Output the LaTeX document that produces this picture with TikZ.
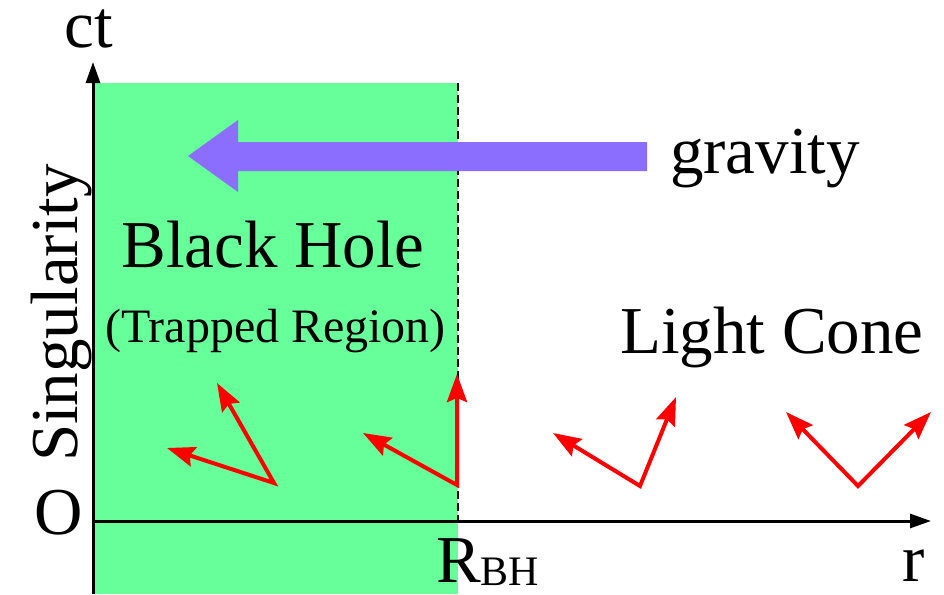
\documentclass[tikz,border=0pt]{standalone}
\usepackage{fontspec}
\setmainfont{Liberation Serif}
\usepackage{tikz}
\usetikzlibrary{arrows.meta}
\definecolor{bhgreen}{HTML}{66FF99}
\definecolor{gravblue}{HTML}{8C6EFF}
\definecolor{conered}{HTML}{FF0000}
\tikzset{
	bignode/.style={
			inner sep=0pt,
			anchor=base,
			font=\fontsize{67}{80}\selectfont
		},
	smallnode/.style={
			bignode,
			font=\fontsize{48}{58}\selectfont
		},
	axisline/.style={
			draw=black,
			line width=3pt,
			-{Triangle[length=21pt,width=14pt]}
		},
	horizonline/.style={
			draw=black,
			line width=2pt,
			dash pattern=on 8pt off 4pt
		},
	conearrow/.style={
			draw=conered,
			line width=4pt,
			{Stealth[length=28pt,width=20pt,inset=4pt]}-{Stealth[length=28pt,width=20pt,inset=4pt]}
		}
}

\begin{document}
\begin{tikzpicture}[x=1pt, y=-1pt]
\useasboundingbox (0,0) rectangle (944,594);

% trapped region
\fill[bhgreen] (93,83) rectangle (458,594);
\coordinate (h1) at (458,83);
\coordinate (h2) at (458,521);
\draw[horizonline] (h1) -- (h2);

% axes
\coordinate (o) at (93,521);
\coordinate (ybot) at (93,594);
\coordinate (ytop) at (93,62);
\coordinate (xend) at (931,521);
\draw[axisline] (ybot) -- (ytop);
\draw[axisline] (o) -- (xend);

\node[bignode] (ct) at (88.5,48) {ct};
\node[bignode] (orig) at (59,534) {O};
\node[bignode] (r) at (913.5,581) {r};
\node[bignode, anchor=base west] (rbh) at (436,582) {R\raisebox{-3pt}{\fontsize{42}{50}\selectfont BH}};
\node[bignode, rotate=90] (sing) at (77,313) {Singularity};

% gravity
\fill[gravblue] (647,142) -- (238,142) -- (238,120) -- (188,156) -- (238,192) -- (238,171) -- (647,171) -- cycle;
\node[bignode] (grav) at (765,173) {gravity};

\node[bignode] (bh) at (273,267) {Black Hole};
\node[smallnode] (tr) at (275.5,342) {(Trapped Region)};
\node[bignode] (lc) at (772,353) {Light Cone};

% light cones
\coordinate (v1) at (274,483);
\coordinate (l1) at (167,448);
\coordinate (u1) at (217,383);
\coordinate (v2) at (457,485);
\coordinate (l2) at (363,433);
\coordinate (u2) at (457,374);
\coordinate (v3) at (640,486);
\coordinate (l3) at (553,433);
\coordinate (u3) at (676,397);
\coordinate (v4) at (858,486);
\coordinate (l4) at (786,412);
\coordinate (u4) at (931,412);

\draw[conearrow] (l1) -- (v1) -- (u1);
\draw[conearrow] (l2) -- (v2) -- (u2);
\draw[conearrow] (l3) -- (v3) -- (u3);
\draw[conearrow] (l4) -- (v4) -- (u4);

\end{tikzpicture}
\end{document}
